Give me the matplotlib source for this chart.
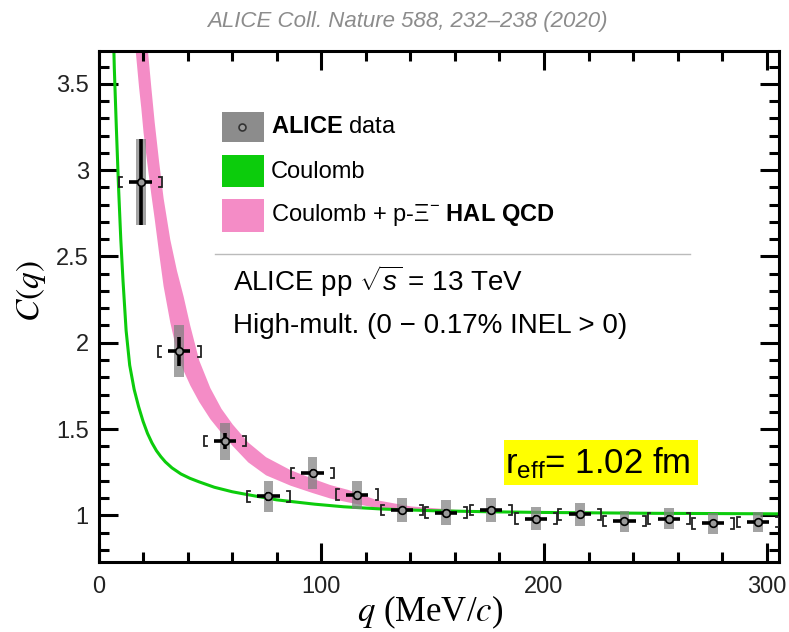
import matplotlib
matplotlib.use('Agg')
import matplotlib.pyplot as plt
from matplotlib.patches import Rectangle
from matplotlib.lines import Line2D
from matplotlib.ticker import MultipleLocator
import numpy as np

# ---------------- data ----------------
q_data = [18.9, 36.3, 56.8, 76.3, 96.1, 116.2, 136.2, 156.0, 176.2, 196.4,
          216.0, 236.1, 256.0, 275.9, 296.0]
C_data = [2.93, 1.95, 1.43, 1.11, 1.245, 1.12, 1.031, 1.016, 1.031, 0.981,
          1.006, 0.967, 0.981, 0.954, 0.961]
stat_err = [0.25, 0.083, 0.045, 0.025, 0.025, 0.02, 0.02, 0.02, 0.02, 0.02,
            0.02, 0.02, 0.02, 0.02, 0.02]
syst_err = [0.25, 0.15, 0.107, 0.09, 0.092, 0.082, 0.072, 0.072, 0.068, 0.067,
            0.066, 0.061, 0.06, 0.06, 0.058]

coul_q = [6.5, 7.1, 8.0, 9.0, 10.0, 11.0, 12.4, 14.0, 16.0, 18.0, 20.0, 22.0,
          24.0, 26.0, 28.0, 30.0, 33.0, 37.0, 41.0, 45.0, 52.0, 60.0, 67.0,
          80.0, 97.0, 110.0, 127.0, 150.0, 175.0, 200.0, 250.0, 305.0]
coul_C = [3.9, 3.59, 3.25, 2.9, 2.6, 2.36, 2.07, 1.87, 1.73, 1.63, 1.545,
          1.475, 1.42, 1.375, 1.34, 1.31, 1.275, 1.24, 1.215, 1.195, 1.163,
          1.137, 1.12, 1.09, 1.065, 1.05, 1.037, 1.027, 1.021, 1.017, 1.012,
          1.009]

band_q = [16, 17, 18, 19, 20, 22, 23.5, 25, 27, 29, 32, 35, 38, 41, 45, 50, 55,
          60, 67, 75, 86, 96, 104, 112, 125, 140, 160, 200, 250, 305]
band_lo = [3.76, 3.62, 3.48, 3.36, 3.22, 3.01, 2.86, 2.72, 2.52, 2.33, 2.12,
           1.95, 1.84, 1.755, 1.66, 1.56, 1.48, 1.405, 1.31, 1.235, 1.175,
           1.132, 1.10, 1.078, 1.045, 1.03, 1.022, 1.015, 1.01, 1.007]
band_hi = [4.6, 4.45, 4.3, 4.15, 4.0, 3.69, 3.48, 3.28, 3.05, 2.84, 2.60, 2.42,
           2.27, 2.10, 1.90, 1.74, 1.62, 1.53, 1.425, 1.34, 1.265, 1.215,
           1.178, 1.15, 1.09, 1.055, 1.035, 1.02, 1.012, 1.008]

x_ticks = [0, 100, 200, 300]
y_ticks = [1, 1.5, 2, 2.5, 3, 3.5]
y_ticklabels = ['1', '1.5', '2', '2.5', '3', '3.5']

# ---------------- style ----------------
plt.rcParams['font.family'] = ['Liberation Sans', 'DejaVu Sans']
plt.rcParams['mathtext.fontset'] = 'custom'
plt.rcParams['mathtext.rm'] = 'Liberation Sans'
plt.rcParams['mathtext.it'] = 'Liberation Sans:italic'
plt.rcParams['mathtext.bf'] = 'Liberation Sans:bold'

PINK = '#f48cc6'
GREEN = '#0ccc0c'
GRAY = '#808080'

W, H = 789, 632
fig = plt.figure(figsize=(W / 100, H / 100), dpi=100)


def fx(x):
    return x / W


def fy(y):
    return 1 - y / H


ax = fig.add_axes([fx(98.5), fy(562), (779 - 98.5) / W, (562 - 51) / H])

qd = np.array(q_data)
Cd = np.array(C_data)
se = np.array(syst_err)

ax.fill_between(band_q, band_lo, band_hi, color=PINK, lw=0, zorder=1)
ax.plot(coul_q, coul_C, color=GREEN, lw=2.2, zorder=2,
        solid_joinstyle='round')
ax.bar(qd, 2 * se, bottom=Cd - se, width=4.4, color=GRAY, alpha=0.72,
       lw=0, zorder=3)

brk_half = 9.5
brk_arm = 1.3
brk_h = 0.03
for qi, ci in zip(q_data, C_data):
    for side in (-1, 1):
        xe = qi + side * brk_half
        ax.plot([xe - side * brk_arm, xe, xe, xe - side * brk_arm],
                [ci + brk_h, ci + brk_h, ci - brk_h, ci - brk_h],
                color='#222222', lw=1.3, zorder=4, solid_joinstyle='miter')

ax.errorbar(qd, Cd, yerr=stat_err, xerr=5, fmt='none', ecolor='black',
            elinewidth=2.6, capsize=0, zorder=5)
ax.plot(qd, Cd, 'o', ms=5.5, mfc='#9a9a9a', mec='black', mew=1.2, zorder=6)

ax.set_xlim(0, 305.5)
ax.set_ylim(0.73, 3.69)
ax.set_xticks(x_ticks)
ax.set_yticks(y_ticks)
ax.set_yticklabels(y_ticklabels)
ax.xaxis.set_minor_locator(MultipleLocator(20))
ax.yaxis.set_minor_locator(MultipleLocator(0.1))
ax.tick_params(which='both', direction='in', top=True, right=True,
               width=2.2, color='black', labelsize=17, labelcolor='#222222')
ax.tick_params(which='major', length=14)
ax.tick_params(which='minor', length=7)
ax.tick_params(axis='x', pad=10)
ax.tick_params(axis='y', pad=7)
for s in ax.spines.values():
    s.set_linewidth(2.2)

# axis labels
fig.text(fx(31), fy(291), r'$C(q)$', rotation=90, ha='center', va='center',
         fontsize=24, math_fontfamily='stix', family='Liberation Serif')
fig.text(fx(430), fy(612), r'$q$ (MeV/$c$)', ha='center', va='center',
         fontsize=25, math_fontfamily='stix', family='Liberation Serif')

# title
fig.text(fx(407), fy(22), 'ALICE Coll. Nature 588, 232–238 (2020)',
         ha='center', va='center', fontsize=16, style='italic',
         color='#8c8c8c')

# legend
fig.add_artist(Rectangle((fx(222), fy(141.5)), (264 - 222) / W,
                         (141.5 - 112) / H, transform=fig.transFigure,
                         color='#8c8c8c', lw=0))
fig.add_artist(Line2D([fx(242)], [fy(127)], marker='o', ms=5,
                      mfc='#9a9a9a', mec='#333333', mew=1.2,
                      transform=fig.transFigure))
fig.add_artist(Rectangle((fx(222), fy(187.3)), (264 - 222) / W,
                         (187.3 - 155) / H, transform=fig.transFigure,
                         color=GREEN, lw=0))
fig.add_artist(Rectangle((fx(222), fy(231.7)), (264 - 222) / W,
                         (231.7 - 199.3) / H, transform=fig.transFigure,
                         color=PINK, lw=0))
fig.text(fx(271), fy(127), r'$\mathbf{ALICE}$ data', va='center',
         fontsize=17)
fig.text(fx(271), fy(172), 'Coulomb', va='center', fontsize=17)
fig.text(fx(271), fy(215), r'Coulomb + p-Ξ$^{-}$ $\mathbf{HAL\ QCD}$',
         va='center', fontsize=17)

fig.add_artist(Line2D([fx(215), fx(690)], [fy(253.5), fy(253.5)],
                      color='#bbbbbb', lw=1, transform=fig.transFigure))

fig.text(fx(233), fy(281), r'ALICE pp $\sqrt{s}$ = 13 TeV', va='center',
         fontsize=20)
fig.text(fx(233), fy(326), 'High-mult. (0 − 0.17% INEL > 0)', va='center',
         fontsize=20)

# r_eff box
fig.add_artist(Rectangle((fx(504), fy(485)), (698 - 504) / W,
                         (485 - 440) / H, transform=fig.transFigure,
                         color='#ffff00', lw=0))
fig.text(fx(505), fy(473), r'r$_{\mathrm{eff}}$= 1.02 fm', va='baseline',
         fontsize=25)

fig.savefig('out.png', dpi=100)
